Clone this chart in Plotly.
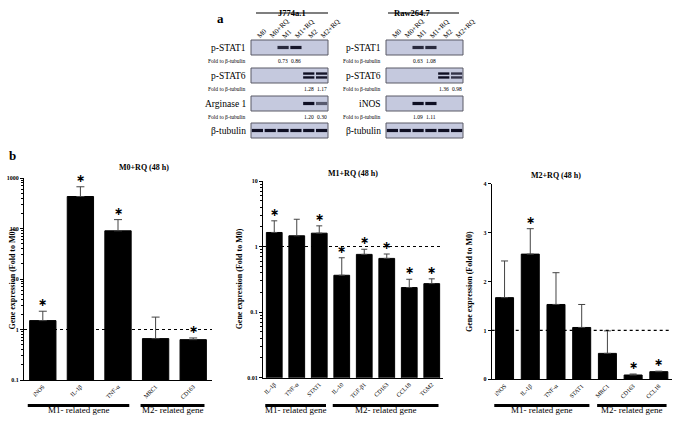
import math
import plotly.graph_objects as go

W, H = 675, 426
SERIF = "Liberation Serif"

# ---------------- data ----------------
# panel b, chart 1: M0+RQ (48 h)
m0_genes = ["iNOS", "IL-1β", "TNF-α", "MRC1", "CD163"]
m0_values = [1.5, 430, 90, 0.66, 0.63]
m0_errors = [0.8, 240, 60, 1.1, 0.05]
m0_signif = [1, 1, 1, 0, 1]
m0_groups = [("M1- related gene", 0, 2), ("M2- related gene", 3, 4)]

# chart 2: M1+RQ (48 h)
m1_genes = ["IL-1β", "TNF-α", "STAT1", "IL-10", "TGF-β1", "CD163", "CCL18", "TGM2"]
m1_values = [1.64, 1.46, 1.6, 0.365, 0.76, 0.66, 0.237, 0.272]
m1_errors = [0.83, 1.15, 0.47, 0.31, 0.15, 0.11, 0.08, 0.05]
m1_signif = [1, 0, 1, 1, 1, 1, 1, 1]
m1_groups = [("M1- related gene", 0, 2), ("M2- related gene", 3, 7)]

# chart 3: M2+RQ (48 h)
m2_genes = ["iNOS", "IL-1β", "TNF-α", "STAT1", "MRC1", "CD163", "CCL18"]
m2_values = [1.67, 2.56, 1.53, 1.06, 0.53, 0.088, 0.156]
m2_errors = [0.75, 0.52, 0.65, 0.47, 0.46, 0.02, 0.01]
m2_signif = [0, 1, 0, 0, 0, 1, 1]
m2_groups = [("M1- related gene", 0, 3), ("M2- related gene", 4, 6)]

# panel a: western blots (band intensity per lane, fold values)
lanes = ["M0", "M0+RQ", "M1", "M1+RQ", "M2", "M2+RQ"]
j774_rows = ["p-STAT1", "p-STAT6", "Arginase 1", "β-tubulin"]
j774_bands = [
    [0, 0, 0.85, 0.95, 0, 0],
    [0, 0, 0, 0, 1.0, 0.95],
    [0, 0, 0, 0, 1.0, 0.6],
    [1, 1, 1, 1, 1, 1],
]
j774_fold = [
    [None, None, 0.73, 0.86, None, None],
    [None, None, None, None, 1.28, 1.17],
    [None, None, None, None, 1.20, 0.30],
    None,
]
raw_rows = ["p-STAT1", "p-STAT6", "iNOS", "β-tubulin"]
raw_bands = [
    [0, 0, 0.85, 0.85, 0, 0],
    [0, 0, 0, 0, 1.0, 0.8],
    [0, 0, 1.0, 1.0, 0, 0],
    [1, 1, 1, 1, 1, 1],
]
raw_fold = [
    [None, None, 0.63, 1.08, None, None],
    [None, None, None, None, 1.36, 0.98],
    [None, None, 1.09, 1.11, None, None],
    None,
]
doublet_rows = {"p-STAT6": True}


def fx(p):
    return p / W


def fy(p):
    return 1 - p / H


fig = go.Figure()
layout = dict(
    width=W, height=H, margin=dict(l=0, r=0, t=0, b=0, autoexpand=False),
    paper_bgcolor="white", plot_bgcolor="white", showlegend=False,
    font=dict(family=SERIF, color="black"),
)
shapes = []
annotations = []


def add_chart(idx, genes, values, errors, signif, groups, title, xdom, ydom,
              ytype, yrange, tickvals, ticktext, minor_vals, title_xy, ytitle_x, capw):
    xa = "x" if idx == 1 else f"x{idx}"
    ya = "y" if idx == 1 else f"y{idx}"
    n = len(genes)
    fig.add_trace(go.Bar(
        x=genes, y=values, xaxis=xa, yaxis=ya, width=0.7,
        marker=dict(color="black", line=dict(color="black", width=1)),
        error_y=dict(type="data", array=errors, arrayminus=[0] * n, symmetric=False,
                     color="#444444", thickness=1, width=capw),
    ))
    for i, (v, e, s) in enumerate(zip(values, errors, signif)):
        if s:
            top = v + e
            yv = math.log10(top) if ytype == "log" else top
            annotations.append(dict(text="\u2217", xref=xa, yref=ya, x=i, y=yv,
                                    yanchor="bottom", yshift=0, showarrow=False,
                                    font=dict(size=11, family="DejaVu Sans", color="black",
                                              weight="bold")))
    yax = dict(
        domain=[fy(ydom[1]), fy(ydom[0])], type=ytype, range=yrange, anchor=xa,
        showline=True, linecolor="black", linewidth=1, ticks="outside", ticklen=3,
        tickcolor="black", showgrid=False, zeroline=False, tickmode="array",
        tickvals=tickvals, ticktext=ticktext, automargin=False,
        tickfont=dict(size=6, family=SERIF, weight="bold"),
    )
    if minor_vals:
        yax["minor"] = dict(tickmode="array", tickvals=minor_vals, ticks="outside",
                            ticklen=2, tickcolor="black", showgrid=False)
    xax = dict(
        domain=[fx(xdom[0]), fx(xdom[1])], anchor=ya, showline=True, linecolor="black",
        linewidth=1, ticks="", showgrid=False, zeroline=False, tickangle=-45,
        tickfont=dict(size=6, family=SERIF), range=[-0.5, n - 0.5], automargin=False,
    )
    layout["xaxis" if idx == 1 else f"xaxis{idx}"] = xax
    layout["yaxis" if idx == 1 else f"yaxis{idx}"] = yax
    # reference line at 1
    shapes.append(dict(type="line", xref=f"{xa} domain", yref=ya, x0=0, x1=1, y0=1, y1=1,
                       line=dict(color="black", width=1.1, dash="dot")))
    # group bars
    for name, a, b in groups:
        shapes.append(dict(type="line", xref=xa, yref="paper", x0=a - 0.4, x1=b + 0.3,
                           y0=fy(405.5), y1=fy(405.5), line=dict(color="black", width=3)))
        annotations.append(dict(text=name, xref=xa, yref="paper", x=(a + b) / 2 - 0.05,
                                y=fy(417), showarrow=False, font=dict(size=9, family=SERIF)))
    annotations.append(dict(text=f"<b>{title}</b>", xref="paper", yref="paper",
                            x=fx(title_xy[0]), y=fy(title_xy[1]), showarrow=False,
                            font=dict(size=8, family=SERIF)))
    annotations.append(dict(text="<b>Gene expression (Fold to M0)</b>", xref="paper",
                            yref="paper", x=fx(ytitle_x), y=fy((ydom[0] + ydom[1]) / 2),
                            textangle=-90, showarrow=False, font=dict(size=8, family=SERIF)))


def log_minor(lo, hi):
    out = []
    for d in range(lo, hi):
        for k in range(2, 10):
            out.append(k * 10 ** d)
    return out


add_chart(1, m0_genes, m0_values, m0_errors, m0_signif, m0_groups, "M0+RQ (48 h)",
          (24, 212), (178, 380), "log", [-1, 3], [0.1, 1, 10, 100, 1000],
          ["0.1", "1", "10", "100", "1000"], log_minor(-1, 3), (117, 167), 5, 4)
add_chart(2, m1_genes, m1_values, m1_errors, m1_signif, m1_groups, "M1+RQ (48 h)",
          (263, 443), (181, 377.7), "log", [-2, 1], [0.01, 0.1, 1, 10],
          ["0.01", "0.1", "1", "10"], log_minor(-2, 1), (353, 173), 239, 3)
add_chart(3, m2_genes, m2_values, m2_errors, m2_signif, m2_groups, "M2+RQ (48 h)",
          (491.7, 671.7), (183.7, 379.3), "linear", [0, 4], [0, 1, 2, 3, 4],
          ["0", "1", "2", "3", "4"], None, (583, 175), 476, 3.5)

# ---------------- blots ----------------
row_px = [(40, 55), (68, 83), (96, 111), (123, 138)]
BG = (197, 201, 222)
DARK = (14, 14, 34)


def band_color(i):
    c = [round(b + (d - b) * i) for b, d in zip(BG, DARK)]
    return f"rgb({c[0]},{c[1]},{c[2]})"


def add_blot(start_idx, xpx, rows, bands, folds, title, title_x, uline):
    for r, (name, inten, fold) in enumerate(zip(rows, bands, folds)):
        idx = start_idx + r
        xa, ya = f"x{idx}", f"y{idx}"
        top, bot = row_px[r]
        layout[f"xaxis{idx}"] = dict(domain=[fx(xpx[0]), fx(xpx[1])], anchor=ya,
                                     range=[-0.5, 5.5], visible=False, automargin=False)
        layout[f"yaxis{idx}"] = dict(domain=[fy(bot), fy(top)], anchor=xa, range=[0, 1],
                                     visible=False, automargin=False)
        shapes.append(dict(type="rect", xref=f"{xa} domain", yref=f"{ya} domain",
                           x0=0, x1=1, y0=0, y1=1, layer="below",
                           fillcolor="rgb(197,201,222)", line=dict(color="#5a5a66", width=1)))
        lx = [i for i, v in enumerate(inten) if v > 0]
        cols = [band_color(inten[i]) for i in lx]
        if doublet_rows.get(name, False):
            for yy in (0.37, 0.63):
                fig.add_trace(go.Scatter(
                    x=lx, y=[yy] * len(lx), xaxis=xa, yaxis=ya, mode="markers",
                    marker=dict(symbol="line-ew", size=8, line=dict(width=2.4, color=cols))))
        else:
            fig.add_trace(go.Scatter(
                x=lx, y=[0.5] * len(lx), xaxis=xa, yaxis=ya, mode="markers",
                marker=dict(symbol="line-ew", size=8, line=dict(width=3.2, color=cols))))
        annotations.append(dict(text=name, xref=f"{xa} domain", yref=f"{ya} domain", x=0,
                                y=0.5, xanchor="right", xshift=-3, showarrow=False,
                                font=dict(size=9.5, family=SERIF)))
        if r == 0:
            for i, lane in enumerate(lanes):
                annotations.append(dict(text=lane, xref=xa, yref=f"{ya} domain", x=i, y=1,
                                        xanchor="left", yanchor="bottom", xshift=-5,
                                        yshift=-3, textangle=-45, showarrow=False,
                                        font=dict(size=7, family=SERIF)))
        if fold is not None:
            annotations.append(dict(text="Fold to β-tubulin", xref=f"{xa} domain",
                                    yref=f"{ya} domain", x=0, y=0, xanchor="right",
                                    yanchor="top", xshift=-3, yshift=-1, showarrow=False,
                                    font=dict(size=5.5, family=SERIF)))
            for i, v in enumerate(fold):
                if v is not None:
                    annotations.append(dict(text=f"{v:.2f}", xref=xa, yref=f"{ya} domain",
                                            x=i, y=0, yanchor="top", yshift=-1,
                                            showarrow=False, font=dict(size=5.5, family=SERIF)))
    annotations.append(dict(text=f"<b>{title}</b>", xref="paper", yref="paper",
                            x=fx(title_x), y=fy(6), showarrow=False,
                            font=dict(size=8.5, family=SERIF)))
    shapes.append(dict(type="line", xref="paper", yref="paper", x0=fx(uline[0]),
                       x1=fx(uline[1]), y0=fy(13), y1=fy(13),
                       line=dict(color="black", width=1.2)))


add_blot(4, (251, 328), j774_rows, j774_bands, j774_fold, "J774a.1", 292, (256, 328))
add_blot(8, (386, 463), raw_rows, raw_bands, raw_fold, "Raw264.7", 412, (388, 459))

# panel letters
annotations.append(dict(text="<b>a</b>", xref="paper", yref="paper", x=fx(215), y=fy(9),
                        showarrow=False, font=dict(size=13, family=SERIF)))
annotations.append(dict(text="<b>b</b>", xref="paper", yref="paper", x=fx(7), y=fy(156),
                        showarrow=False, font=dict(size=13, family=SERIF)))

layout["shapes"] = shapes
layout["annotations"] = annotations
fig.update_layout(**layout)
fig.write_html(
    "out.html",
    config={"displayModeBar": False, "staticPlot": True},
    post_script="document.body.style.margin='0px';document.body.style.overflow='hidden';",
)
